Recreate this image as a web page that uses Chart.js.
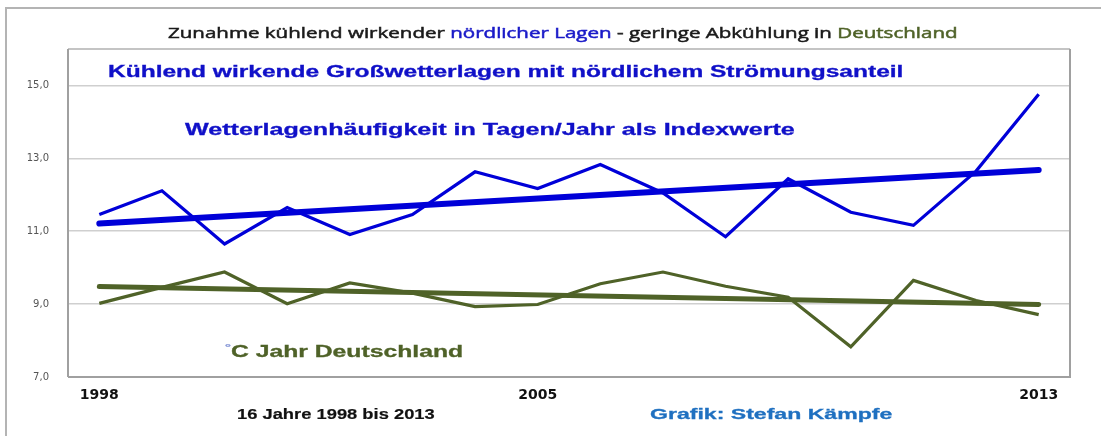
<!DOCTYPE html>
<html>
<head>
<meta charset="utf-8">
<script src="https://cdn.jsdelivr.net/npm/chart.js@4"></script>
<style>
    html, body { margin: 0; padding: 0; background: #fff; }
    #wrap { position: relative; width: 1101px; height: 436px; overflow: hidden; }
    #frame { position: absolute; left: 5px; top: 7px; width: 1120px; height: 460px;
             border-top: 2px solid #b4b4b4; border-left: 2px solid #b4b4b4; }
    canvas { position: absolute; left: 0; top: 0; }
    .lbl { position: absolute; white-space: nowrap; line-height: 1; transform-origin: 0 50%; }
</style>
</head>
<body>
<div id="wrap">
    <div id="frame"></div>
    <canvas id="chart" width="1101" height="436"></canvas>
</div>
<script>
    const years = ['1998', '1999', '2000', '2001', '2002', '2003', '2004', '2005',
                   '2006', '2007', '2008', '2009', '2010', '2011', '2012', '2013'];
    // Wetterlagenhäufigkeit (Indexwerte)
    const northDays = [11.46, 12.11, 10.65, 11.65, 10.91, 11.46, 12.63, 12.17,
                       12.83, 12.05, 10.85, 12.44, 11.52, 11.16, 12.65, 14.76];
    // °C Jahr Deutschland
    const tempGermany = [9.02, 9.46, 9.88, 9.01, 9.58, 9.30, 8.93, 8.99,
                         9.56, 9.88, 9.49, 9.19, 7.83, 9.65, 9.10, 8.71];
    // trend line end points (first year, last year)
    const northTrend = [11.21, 12.68];
    const tempTrend = [9.48, 8.99];
    const xTickLabels = ['1998', '2005', '2013'];
    const yTickValues = [7, 9, 11, 13, 15];

    const BLUE = '#0000d8';
    const GREEN = '#4f6228';

    function trendData(ends) {
        return years.map((y, i) => i === 0 ? ends[0] : (i === years.length - 1 ? ends[1] : null));
    }

    const borderPlugin = {
        id: 'plotBorder',
        beforeDatasetsDraw(chart) {
            const { ctx, chartArea: a } = chart;
            ctx.save();
            ctx.lineWidth = 2;
            ctx.strokeStyle = '#c4c4c4';
            ctx.beginPath();
            ctx.moveTo(a.left, a.top);
            ctx.lineTo(a.right, a.top);
            ctx.stroke();
            ctx.strokeStyle = '#a0a0a0';
            ctx.beginPath();
            ctx.moveTo(a.left, a.bottom);
            ctx.lineTo(a.right, a.bottom);
            ctx.lineTo(a.right, a.top);
            ctx.moveTo(a.left, a.top);
            ctx.lineTo(a.left, a.bottom);
            ctx.stroke();
            ctx.restore();
        }
    };

    new Chart(document.getElementById('chart'), {
        type: 'line',
        data: {
            labels: years,
            datasets: [
                { data: trendData(northTrend), borderColor: BLUE, borderWidth: 6, spanGaps: true, borderCapStyle: 'round' },
                { data: trendData(tempTrend), borderColor: GREEN, borderWidth: 5, spanGaps: true, borderCapStyle: 'round' },
                { data: northDays, borderColor: BLUE, borderWidth: 3.2 },
                { data: tempGermany, borderColor: GREEN, borderWidth: 3.2 }
            ]
        },
        options: {
            responsive: false,
            animation: false,
            events: [],
            layout: { padding: { top: 49, right: 31, left: 0, bottom: 0 } },
            elements: { point: { radius: 0 }, line: { tension: 0, fill: false } },
            plugins: { legend: { display: false }, tooltip: { enabled: false } },
            scales: {
                x: {
                    type: 'category',
                    offset: true,
                    grid: { display: false, drawTicks: false },
                    border: { display: false },
                    afterFit(scale) { scale.height = 59; },
                    ticks: {
                        autoSkip: false,
                        maxRotation: 0,
                        padding: 10,
                        color: '#111',
                        font: { family: 'DejaVu Sans', weight: 'bold', size: 14 },
                        callback(value, i) {
                            return xTickLabels.includes(years[i]) ? years[i] : '';
                        }
                    }
                },
                y: {
                    min: 7,
                    max: 16,
                    afterFit(scale) { scale.width = 68; },
                    afterBuildTicks(scale) {
                        scale.ticks = yTickValues.map(v => ({ value: v }));
                    },
                    grid: { color: '#cfcfcf', lineWidth: 1.5, drawTicks: false },
                    border: { display: false },
                    ticks: {
                        padding: 19,
                        color: '#555',
                        font: { family: 'DejaVu Sans', size: 10 },
                        callback(value) { return value.toFixed(1).replace('.', ','); }
                    }
                }
            }
        },
        plugins: [borderPlugin]
    });

    // free texts of the graphic: [html, left, centre y, width, font, colour, stroke]
    const texts = [
        ['Zunahme kühlend wirkender <span style="color:#1a1ac8">nördlicher Lagen</span> - geringe Abkühlung in <span style="color:#4f6228">Deutschland</span>',
            168, 32, 790, '15px "Open Sans"', '#1a1a1a', 0.5],
        ['Kühlend wirkende Großwetterlagen mit nördlichem Strömungsanteil', 108, 72, 795, 'bold 16px "Liberation Sans"', '#1010c8', 0.3],
        ['Wetterlagenhäufigkeit in Tagen/Jahr als Indexwerte', 185, 130, 610, 'bold 16px "Liberation Sans"', '#1010c8', 0.3],
        ['<span style="color:#8a9ad8;font-size:0.6em;vertical-align:0.7em">°</span>C Jahr Deutschland', 225, 351, 238, 'bold 16px "Liberation Sans"', GREEN, 0.3],
        ['16 Jahre 1998 bis 2013', 237, 413, 198, 'bold 15px "Liberation Sans"', '#111', 0.2],
        ['Grafik: Stefan Kämpfe', 650, 413, 243, 'bold 15px "Liberation Sans"', '#1f70c0', 0.3]
    ];

    const wrap = document.getElementById('wrap');
    texts.forEach(([html, left, cy, width, font, color, stroke]) => {
        const el = document.createElement('div');
        el.className = 'lbl';
        el.innerHTML = html;
        el.style.font = font;
        el.style.color = color;
        el.style.webkitTextStroke = stroke + 'px';
        el.style.left = left + 'px';
        wrap.appendChild(el);
        const w = el.offsetWidth, h = el.offsetHeight;
        el.style.top = (cy - h / 2) + 'px';
        el.style.transform = 'scaleX(' + (width / w).toFixed(3) + ')';
    });
</script>
</body>
</html>
